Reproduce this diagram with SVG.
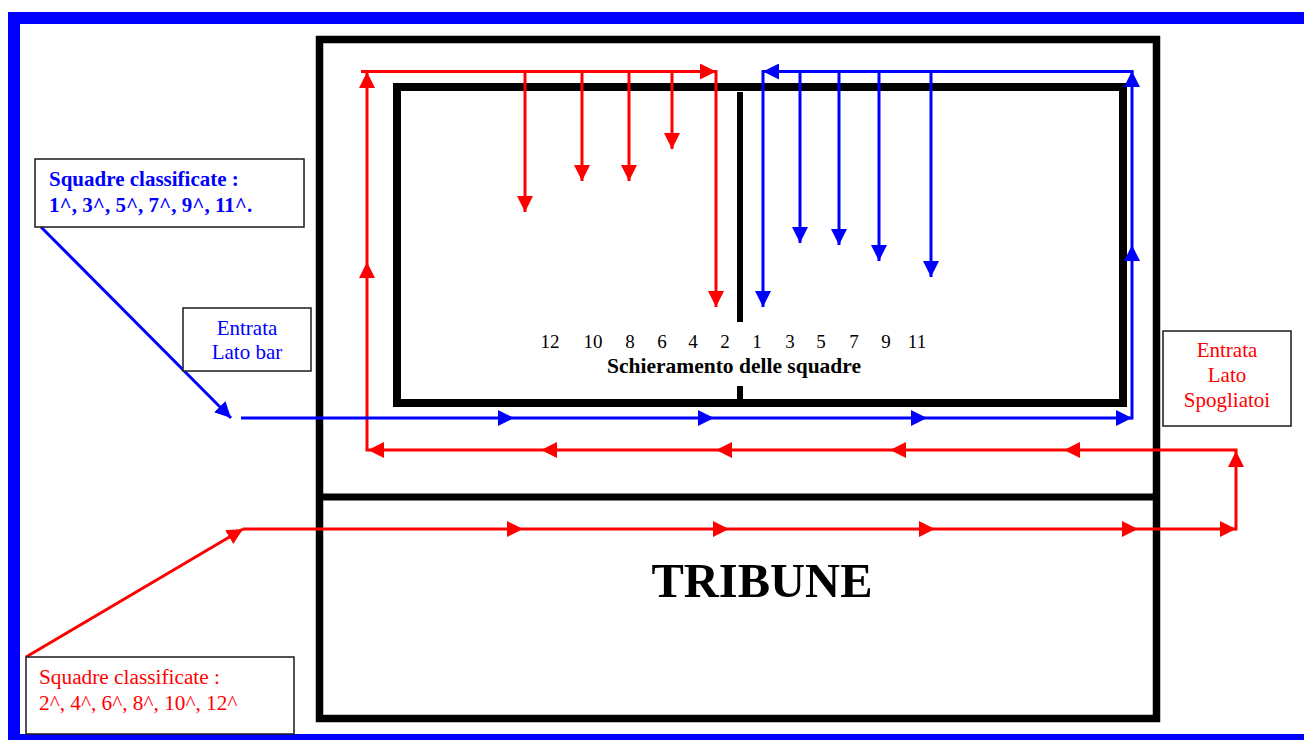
<svg xmlns="http://www.w3.org/2000/svg" width="1304" height="740" viewBox="0 0 1304 740">
<style>
.t{font-family:"Liberation Serif","Times New Roman",serif}
.wall{fill:none;stroke:#000}
.box{fill:#fff;stroke:#1a1a1a;stroke-width:1.5}
.r{stroke:#ff0000;stroke-width:3;fill:none;marker-end:url(#ar)}
.b{stroke:#0000ff;stroke-width:3;fill:none;marker-end:url(#ab)}
.num{font-size:19px;fill:#000;text-anchor:middle}
</style>
<defs>
<marker id="ar" viewBox="0 0 16 16" markerWidth="16" markerHeight="16" refX="16" refY="8" orient="auto" markerUnits="userSpaceOnUse"><path d="M0,0 L16,8 L0,16 z" fill="#ff0000"/></marker>
<marker id="ab" viewBox="0 0 16 16" markerWidth="16" markerHeight="16" refX="16" refY="8" orient="auto" markerUnits="userSpaceOnUse"><path d="M0,0 L16,8 L0,16 z" fill="#0000ff"/></marker>
</defs>
<rect width="1304" height="740" fill="#fff"/>
<rect id="border" x="14" y="18" width="1310" height="722" fill="none" stroke="#0000ff" stroke-width="12"/>

<g id="stadium">
<rect class="wall" x="319.5" y="39.5" width="837" height="679" stroke-width="7.5"/>
<line x1="316" y1="497" x2="1160" y2="497" stroke="#000" stroke-width="7"/>
</g>
<g id="field">
<rect class="wall" x="397" y="87" width="726" height="316" stroke-width="8"/>
<line x1="740" y1="92" x2="740" y2="322" stroke="#000" stroke-width="6"/>
<line x1="740" y1="386" x2="740" y2="407" stroke="#000" stroke-width="6"/>
</g>

<g id="connectors">
<!-- red path -->
<line class="r" x1="26" y1="657" x2="243" y2="529"/>
<line class="r" x1="243" y1="529" x2="523" y2="529"/>
<line class="r" x1="523" y1="529" x2="729" y2="529"/>
<line class="r" x1="729" y1="529" x2="935" y2="529"/>
<line class="r" x1="935" y1="529" x2="1138" y2="529"/>
<line class="r" x1="1138" y1="529" x2="1236" y2="529"/>
<line class="r" x1="1236" y1="530.5" x2="1236" y2="451"/>
<line class="r" x1="1237.5" y1="450" x2="1064" y2="450"/>
<line class="r" x1="1064" y1="450" x2="890" y2="450"/>
<line class="r" x1="890" y1="450" x2="716" y2="450"/>
<line class="r" x1="716" y1="450" x2="541" y2="450"/>
<line class="r" x1="541" y1="450" x2="368" y2="450"/>
<line class="r" x1="367" y1="451.5" x2="367" y2="262"/>
<line class="r" x1="367" y1="262" x2="367" y2="72"/>
<line class="r" x1="361" y1="71.5" x2="716" y2="71.5"/>
<line class="r" x1="716" y1="70" x2="716" y2="307"/>
<line class="r" x1="525" y1="71.5" x2="525" y2="212"/>
<line class="r" x1="582" y1="71.5" x2="582" y2="181"/>
<line class="r" x1="629" y1="71.5" x2="629" y2="181"/>
<line class="r" x1="672" y1="71.5" x2="672" y2="149"/>
<!-- blue path -->
<line class="b" x1="41" y1="227" x2="231" y2="418"/>
<line class="b" x1="241" y1="418" x2="514" y2="418"/>
<line class="b" x1="514" y1="418" x2="714" y2="418"/>
<line class="b" x1="714" y1="418" x2="927" y2="418"/>
<line class="b" x1="927" y1="418" x2="1132" y2="418"/>
<line class="b" x1="1132" y1="419.5" x2="1132" y2="245"/>
<line class="b" x1="1132" y1="245" x2="1132" y2="71"/>
<line class="b" x1="1133.5" y1="71.5" x2="763" y2="71.5"/>
<line class="b" x1="763" y1="70" x2="763" y2="307"/>
<line class="b" x1="800" y1="71.5" x2="800" y2="243"/>
<line class="b" x1="839" y1="71.5" x2="839" y2="245"/>
<line class="b" x1="879" y1="71.5" x2="879" y2="261"/>
<line class="b" x1="931" y1="71.5" x2="931" y2="277"/>
</g>

<g id="labels" class="t">
<g class="num">
<text x="550" y="348">12</text>
<text x="593" y="348">10</text>
<text x="630" y="348">8</text>
<text x="662" y="348">6</text>
<text x="693" y="348">4</text>
<text x="725" y="348">2</text>
<text x="757" y="348">1</text>
<text x="790" y="348">3</text>
<text x="821" y="348">5</text>
<text x="854" y="348">7</text>
<text x="886" y="348">9</text>
<text x="917" y="348">11</text>
</g>
<text x="734" y="373" font-size="21.5" font-weight="bold" text-anchor="middle" fill="#000">Schieramento delle squadre</text>
<text id="tribune" x="762" y="597" font-size="48.5" font-weight="bold" text-anchor="middle" fill="#000">TRIBUNE</text>
</g>

<g id="box-blue-classified" class="t">
<rect class="box" x="35" y="159" width="269" height="68"/>
<text x="49" y="186" font-size="21" font-weight="bold" fill="#0000ff">Squadre classificate :</text>
<text x="49" y="212" font-size="21" font-weight="bold" fill="#0000ff">1^, 3^, 5^, 7^, 9^, 11^.</text>
</g>

<g id="box-lato-bar" class="t">
<rect class="box" x="183" y="308" width="128" height="63"/>
<text x="247" y="335" font-size="21" fill="#0000ff" text-anchor="middle">Entrata</text>
<text x="247" y="359" font-size="21" fill="#0000ff" text-anchor="middle">Lato bar</text>
</g>

<g id="box-spogliatoi" class="t">
<rect class="box" x="1163" y="331" width="128" height="95"/>
<text x="1227" y="357" font-size="21" fill="#ff0000" text-anchor="middle">Entrata</text>
<text x="1227" y="382" font-size="21" fill="#ff0000" text-anchor="middle">Lato</text>
<text x="1227" y="407" font-size="21" fill="#ff0000" text-anchor="middle">Spogliatoi</text>
</g>

<g id="box-red-classified" class="t">
<rect class="box" x="26" y="657" width="268" height="77"/>
<text x="39" y="684" font-size="21.3" fill="#ff0000">Squadre classificate :</text>
<text x="39" y="710" font-size="21.3" fill="#ff0000">2^, 4^, 6^, 8^, 10^, 12^</text>
</g>
</svg>
